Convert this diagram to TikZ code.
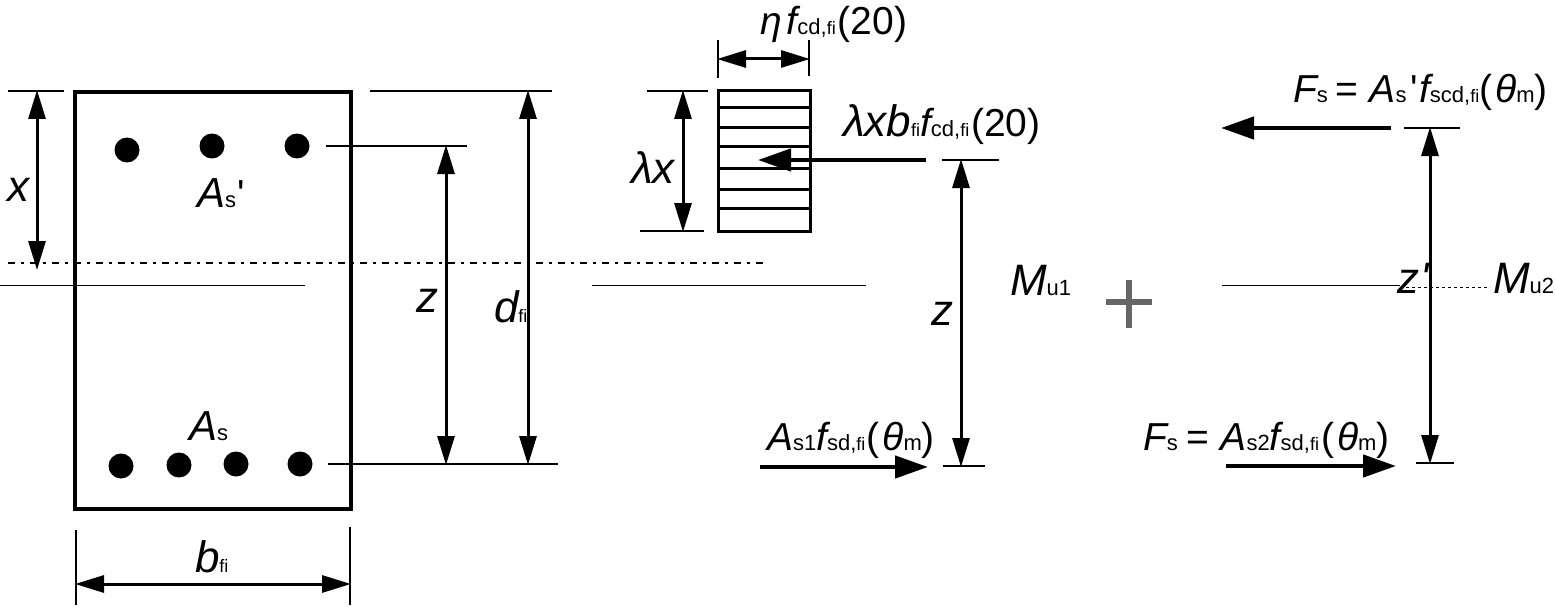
\documentclass[tikz,border=0pt]{standalone}
\usepackage{fontspec}
\setmainfont{Liberation Sans}
\newfontfamily\pf{Liberation Sans}
\usetikzlibrary{arrows.meta}
\newcommand{\iv}[1]{{\fontsize{39}{39}\selectfont\itshape #1}}
\newcommand{\ivb}[1]{{\fontsize{44}{44}\selectfont\itshape #1}}
\newcommand{\ivc}[1]{{\fontsize{42}{42}\selectfont\itshape #1}}
\newcommand{\subt}[1]{{\fontsize{22}{22}\selectfont #1}}
\newcommand{\ssubt}[1]{{\fontsize{18}{18}\selectfont #1}}
\newcommand{\upt}[1]{{\fontsize{39}{39}\selectfont #1}}
\newcommand{\prm}{{\pf '}}
\newcommand{\hs}[1]{\hspace*{#1pt}}
\tikzset{
 x=1pt,y=-1pt,
 lab/.style={inner sep=0pt,outer sep=0pt,anchor=base west},
 ext/.style={line width=2.5pt},
 hair/.style={line width=1pt},
 dimn/.style={line width=3pt,{Triangle[length=29pt,width=17pt]}-{Triangle[length=29pt,width=17pt]},shorten <=-1pt,shorten >=-1pt},
 force/.style={line width=4.5pt,-{Triangle[length=33pt,width=22pt]}},
 member/.style={line width=4.5pt,draw},
 block/.style={line width=3pt},
 rebar/.style={circle,fill=black,draw=none,minimum size=25pt,inner sep=0pt},
}
\begin{document}
\begin{tikzpicture}
\useasboundingbox (0,0) rectangle (1555,607);
% section
\node[member,inner sep=0pt,minimum width=276pt,minimum height=417pt] (sec) at (213,300.5) {};
\foreach \n/\a/\b in {t1/127/150,t2/212/146,t3/297/146,b1/121/466,b2/179/465,b3/236/464,b4/300/464}
  \node[rebar] (\n) at (\a,\b) {};
% neutral axes
\coordinate (na0) at (8,263); \coordinate (na1) at (765,263);
\draw[line width=2.5pt,dash pattern=on 7pt off 6pt on 3pt off 6pt] (na0) -- (na1);
\foreach \n/\a/\b in {p/0/305,q/592/866,r/1222/1400}{
  \coordinate (\n0) at (\a,285); \coordinate (\n1) at (\b,285);
  \draw[hair] (\n0) -- (\n1);}
\coordinate (r2) at (1400,287); \coordinate (r3) at (1490,287);
\draw[line width=1pt,dash pattern=on 3pt off 3pt] (r2) -- (r3);
% extension lines, section
\coordinate (e1) at (8,91); \coordinate (e2) at (64,91);
\coordinate (e3) at (370,91); \coordinate (e4) at (552,91);
\coordinate (e5) at (326,146); \coordinate (e6) at (467,146);
\coordinate (e7) at (328,464); \coordinate (e8) at (558,464);
\coordinate (e9) at (76,530); \coordinate (e10) at (76,605);
\coordinate (e11) at (350,527); \coordinate (e12) at (350,605);
\draw[ext] (e1)--(e2) (e3)--(e4) (e5)--(e6) (e7)--(e8) (e9)--(e10) (e11)--(e12);
% dims, section
\coordinate (dx0) at (37,91); \coordinate (dx1) at (37,269);
\draw[dimn] (dx0)--(dx1);
\coordinate (dz0) at (446,146); \coordinate (dz1) at (446,464);
\draw[dimn] (dz0)--(dz1);
\coordinate (dd0) at (528,91); \coordinate (dd1) at (528,464);
\draw[dimn] (dd0)--(dd1);
\coordinate (db0) at (76,584); \coordinate (db1) at (350,584);
\draw[dimn] (db0)--(db1);
% stress block
\node[draw,block,inner sep=0pt,minimum width=92pt,minimum height=140pt] (sb) at (764,161) {};
\foreach \y in {108,128,147,168,189,208}
  \draw[line width=3pt] (718,\y) -- (810,\y);
\coordinate (f1) at (718,40); \coordinate (f2) at (718,78);
\coordinate (f3) at (809,40); \coordinate (f4) at (809,76);
\coordinate (f5) at (647,91); \coordinate (f6) at (708,91);
\coordinate (f7) at (640,231); \coordinate (f8) at (704,231);
\draw[ext] (f1)--(f2) (f3)--(f4) (f5)--(f6) (f7)--(f8);
\coordinate (de0) at (718,59); \coordinate (de1) at (809,59);
\draw[dimn] (de0)--(de1);
\coordinate (dl0) at (683,91); \coordinate (dl1) at (683,231);
\draw[dimn] (dl0)--(dl1);
% first couple
\coordinate (c1) at (926,160); \coordinate (c2) at (758,160);
\draw[force] (c1)--(c2);
\coordinate (g1) at (942,160); \coordinate (g2) at (999,160);
\coordinate (g3) at (943,466); \coordinate (g4) at (985,466);
\draw[ext] (g1)--(g2) (g3)--(g4);
\coordinate (dz2) at (961,160); \coordinate (dz3) at (961,466);
\draw[dimn] (dz2)--(dz3);
\coordinate (c3) at (760,467); \coordinate (c4) at (928,467);
\draw[force] (c3)--(c4);
% second couple
\coordinate (h1) at (1391,128); \coordinate (h2) at (1221,128);
\draw[force] (h1)--(h2);
\coordinate (i1) at (1404,128); \coordinate (i2) at (1460,128);
\coordinate (i3) at (1416,463); \coordinate (i4) at (1454,463);
\draw[ext] (i1)--(i2) (i3)--(i4);
\coordinate (dz4) at (1430,128); \coordinate (dz5) at (1430,463);
\draw[dimn] (dz4)--(dz5);
\coordinate (h3) at (1226,466); \coordinate (h4) at (1396,466);
\draw[force] (h3)--(h4);
% plus
\coordinate (pl0) at (1106,302); \coordinate (pl1) at (1152,302);
\coordinate (pl2) at (1129,280); \coordinate (pl3) at (1129,328);
\draw[line width=6pt,black!60] (pl0)--(pl1) (pl2)--(pl3);
% labels
\node[lab] (lx) at (8,201) {\ivb{x}};
\node[lab] (las1) at (197,207) {\ivc{A}\subt{s}\hs{1}\upt{\prm}};
\node[lab] (las) at (189,440) {\ivc{A}\subt{s}};
\node[lab] (lz) at (416,312) {\ivb{z}};
\node[lab] (ld) at (494,322) {\ivb{d}\ssubt{fi}};
\node[lab] (lb) at (195,572) {\ivb{b}\ssubt{fi}};
\node[lab] (leta) at (760,35) {\iv{η}\hs{5}\iv{f}\subt{cd,\ssubt{fi}}\hs{2}\upt{(20)}};
\node[lab] (llam) at (631,183) {\ivb{λx}};
\node[lab] (lf) at (843,136) {\ivb{λxb}\ssubt{fi}\iv{f}\subt{cd,\ssubt{fi}}\hs{2}\upt{(20)}};
\node[lab] (lmu1) at (1010,295) {\ivb{M}\subt{u1}};
\node[lab] (lz1) at (931,325) {\ivb{z}};
\node[lab] (lz2) at (1397,293) {\ivb{z}\hs{2}{\fontsize{44}{44}\selectfont\itshape\prm}};
\node[lab] (lmu2) at (1493,293) {\ivb{M}\subt{u2}};
\node[lab] (lfs) at (1293,103) {\iv{F}\subt{s}\hs{8}\upt{=}\hs{11}\iv{A}\subt{s}\hs{4}\upt{\prm}\hs{1}\iv{f}\subt{scd,\ssubt{fi}}\upt{(}\hs{3}\iv{θ}\subt{m}\upt{)}};
\node[lab] (la1) at (767,450) {\iv{A}\subt{s1}\iv{f}\subt{sd,\ssubt{fi}}\hs{1}\upt{(}\hs{3}\iv{θ}\subt{m}\upt{)}};
\node[lab] (lf2) at (1143,450) {\iv{F}\subt{s}\hs{9}\upt{=}\hs{11}\iv{A}\subt{s2}\iv{f}\subt{sd,\ssubt{fi}}\hs{2}\upt{(}\hs{3}\iv{θ}\subt{m}\upt{)}};
\end{tikzpicture}
\end{document}
